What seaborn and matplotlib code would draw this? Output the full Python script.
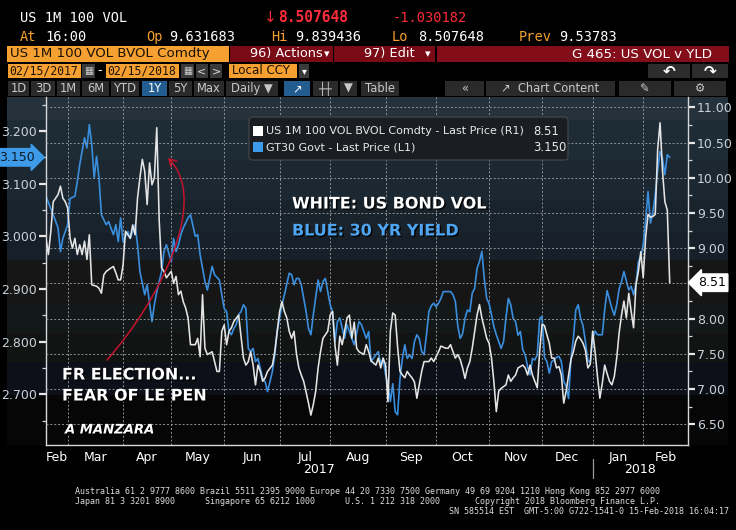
import matplotlib
matplotlib.use("Agg")
import matplotlib.pyplot as plt
import matplotlib.transforms as mtransforms
import matplotlib.patheffects as pe
from matplotlib.patches import Rectangle, FancyBboxPatch, FancyArrowPatch
from matplotlib.path import Path
import pandas as pd
import seaborn as sns

# ---------------- data ----------------
vol_day = [0, 1, 2, 3, 4, 5, 6, 7, 8, 9, 10, 11, 12, 13, 14, 15, 16, 17, 18, 19, 21, 22, 23, 24, 25, 27, 28, 29, 30, 31,
           32, 33, 34, 35, 36, 37, 38, 39, 40, 41, 42, 43, 44, 45, 46, 47, 48, 49, 50, 52, 53, 54, 55, 56, 57, 58, 59, 60, 62, 63,
           64, 65, 66, 67, 68, 69, 70, 71, 72, 73, 74, 75, 76, 77, 78, 80, 81, 82, 83, 84, 85, 86, 87, 88, 89, 90, 91, 92, 94, 95,
           96, 97, 98, 99, 100, 101, 102, 103, 104, 105, 106, 107, 108, 109, 110, 111, 112, 113, 114, 115, 117, 118, 119, 120, 121, 122, 123, 124, 125, 126,
           127, 128, 129, 130, 132, 133, 134, 135, 137, 138, 139, 140, 141, 142, 143, 144, 145, 146, 147, 148, 149, 150, 151, 152, 153, 154, 155, 156, 157, 159,
           160, 161, 163, 164, 166, 167, 168, 169, 170, 171, 172, 173, 174, 175, 176, 177, 178, 179, 180, 181, 182, 183, 184, 185, 186, 187, 188, 189, 191, 192,
           193, 194, 195, 196, 198, 199, 200, 201, 202, 203, 204, 205, 206, 207, 208, 209, 210, 211, 212, 213, 214, 215, 216, 217, 218, 219, 220, 221, 222, 223,
           224, 225, 226, 227, 228, 229, 230, 231, 232, 233, 234, 235, 236, 237, 238, 239, 240, 241, 242, 243, 244, 245, 246, 247, 248, 249, 250, 251, 252, 253,
           254, 255, 256, 257, 258, 259]
vol_val = [9.14, 8.91, 9.24, 9.66, 9.71, 9.76, 9.88, 9.71, 9.66, 9.57, 9.14, 9.00, 9.14, 8.91, 9.05, 8.91, 9.10, 8.84, 9.19, 8.48, 8.46, 8.43, 8.36, 8.62, 8.67, 8.72, 8.74, 8.65, 8.55, 8.55,
           8.76, 9.24, 9.19, 9.14, 9.33, 9.19, 9.71, 10.00, 10.26, 10.09, 9.62, 10.21, 9.90, 10.00, 10.71, 9.40, 8.72, 8.67, 8.58, 8.67, 8.50, 8.60, 8.34, 8.39, 8.24, 8.15, 8.01, 7.63, 7.63, 7.72,
           7.46, 8.34, 7.58, 7.49, 7.51, 7.53, 7.39, 7.25, 7.25, 7.82, 7.91, 7.63, 7.82, 7.87, 7.96, 8.05, 7.75, 7.44, 7.34, 7.39, 7.53, 7.34, 7.06, 7.34, 7.25, 7.11, 7.16, 7.25, 7.34, 7.53,
           7.82, 8.10, 8.24, 8.10, 8.01, 7.82, 7.72, 7.82, 7.50, 7.30, 7.20, 7.11, 6.96, 6.80, 6.63, 6.78, 6.97, 7.30, 7.53, 7.72, 7.82, 8.05, 8.10, 7.62, 7.34, 7.75, 7.63, 7.82, 8.01, 8.05,
           7.72, 7.95, 7.58, 7.53, 7.49, 7.63, 7.53, 7.40, 7.34, 7.44, 7.30, 7.44, 7.34, 6.82, 7.82, 8.08, 8.05, 7.60, 7.25, 7.20, 7.16, 7.25, 7.20, 7.16, 7.10, 6.87, 7.06, 7.25, 7.39, 7.39,
           7.44, 7.39, 7.53, 7.61, 7.58, 7.58, 7.63, 7.53, 7.44, 7.49, 7.42, 7.30, 7.15, 7.30, 7.39, 7.58, 7.82, 8.05, 8.20, 8.01, 7.87, 7.72, 7.65, 7.44, 7.10, 6.68, 6.97, 7.01, 7.06, 7.20,
           7.11, 7.16, 7.20, 7.30, 7.34, 7.30, 7.20, 7.34, 7.20, 7.11, 7.02, 7.53, 7.92, 7.90, 7.77, 7.65, 7.44, 7.44, 7.30, 7.32, 7.20, 6.80, 6.97, 7.20, 7.42, 7.53, 7.68, 7.75, 7.71, 7.65,
           7.55, 7.30, 7.35, 7.82, 7.53, 7.18, 6.87, 7.08, 7.34, 7.22, 7.11, 7.06, 7.18, 7.44, 7.80, 8.05, 8.25, 8.01, 8.36, 8.10, 7.87, 8.48, 8.67, 8.95, 8.58, 9.15, 9.48, 9.44, 9.45, 9.48,
           10.40, 10.78, 10.10, 9.66, 9.54, 8.51]

yld_day = [0, 3, 5, 6, 7, 9, 10, 12, 13, 14, 16, 17, 18, 19, 20, 21, 22, 23, 25, 26, 28, 29, 30, 31, 32, 34, 35, 37, 38, 39,
           41, 42, 44, 45, 46, 48, 49, 50, 52, 53, 54, 55, 56, 57, 59, 60, 62, 63, 64, 66, 67, 68, 69, 70, 72, 73, 74, 75, 76, 77,
           78, 79, 80, 81, 82, 83, 84, 85, 86, 87, 88, 89, 90, 91, 92, 94, 95, 96, 98, 99, 101, 102, 103, 104, 105, 106, 107, 108, 109, 110,
           111, 113, 114, 115, 116, 117, 118, 119, 120, 121, 122, 124, 125, 127, 128, 130, 131, 133, 134, 135, 137, 138, 139, 140, 141, 142, 143, 144, 145, 146,
           147, 148, 149, 150, 151, 152, 153, 154, 155, 156, 157, 158, 159, 160, 161, 162, 163, 164, 165, 166, 168, 169, 170, 171, 172, 173, 174, 175, 176, 177,
           178, 179, 180, 181, 182, 183, 184, 185, 186, 187, 188, 189, 190, 191, 192, 193, 194, 195, 196, 197, 198, 199, 200, 201, 202, 203, 204, 205, 206, 207,
           208, 209, 210, 211, 212, 213, 214, 215, 216, 217, 218, 219, 220, 221, 222, 223, 224, 225, 226, 227, 228, 229, 230, 231, 232, 233, 234, 235, 236, 237,
           238, 239, 240, 241, 242, 243, 244, 245, 246, 247, 248, 249, 250, 251, 252, 253, 254, 255, 256, 257, 258, 259]
yld_val = [3.076, 3.041, 3.016, 2.971, 2.996, 3.022, 3.072, 3.076, 3.104, 3.136, 3.187, 3.168, 3.212, 3.174, 3.111, 3.152, 3.111, 3.041, 3.022, 3.028, 3.003, 3.022, 2.990, 3.035, 2.990, 3.009, 2.996, 3.022, 2.984, 2.933,
           2.889, 2.908, 2.838, 2.870, 2.895, 2.933, 2.971, 2.984, 2.952, 2.996, 2.971, 2.984, 3.003, 3.016, 3.035, 3.041, 3.000, 3.003, 2.965, 2.914, 2.898, 2.920, 2.943, 2.927, 2.917, 2.889, 2.863, 2.857, 2.819, 2.813,
           2.825, 2.832, 2.851, 2.857, 2.870, 2.863, 2.787, 2.781, 2.787, 2.762, 2.768, 2.749, 2.730, 2.724, 2.705, 2.743, 2.775, 2.819, 2.870, 2.889, 2.930, 2.927, 2.908, 2.920, 2.920, 2.908, 2.882, 2.857, 2.825, 2.813,
           2.851, 2.917, 2.895, 2.914, 2.920, 2.895, 2.870, 2.857, 2.800, 2.838, 2.845, 2.806, 2.832, 2.806, 2.794, 2.838, 2.832, 2.806, 2.819, 2.762, 2.775, 2.781, 2.756, 2.768, 2.737, 2.720, 2.686, 2.720, 2.667, 2.661,
           2.730, 2.768, 2.794, 2.768, 2.775, 2.768, 2.800, 2.813, 2.806, 2.781, 2.775, 2.813, 2.857, 2.868, 2.873, 2.866, 2.873, 2.882, 2.895, 2.895, 2.895, 2.889, 2.876, 2.830, 2.806, 2.815, 2.844, 2.860, 2.857, 2.892,
           2.901, 2.939, 2.952, 2.971, 2.920, 2.882, 2.872, 2.851, 2.828, 2.813, 2.800, 2.787, 2.800, 2.845, 2.882, 2.870, 2.844, 2.838, 2.812, 2.819, 2.784, 2.775, 2.752, 2.737, 2.768, 2.765, 2.775, 2.844, 2.848, 2.770,
           2.762, 2.740, 2.762, 2.765, 2.770, 2.772, 2.762, 2.724, 2.715, 2.692, 2.768, 2.806, 2.860, 2.870, 2.844, 2.830, 2.800, 2.765, 2.760, 2.805, 2.820, 2.813, 2.813, 2.813, 2.860, 2.897, 2.880, 2.863, 2.850, 2.870,
           2.900, 2.914, 2.933, 2.915, 2.898, 2.905, 2.889, 2.910, 2.952, 2.962, 2.984, 3.030, 3.085, 3.025, 3.045, 3.080, 3.125, 3.161, 3.148, 3.117, 3.155, 3.150]

month_starts = [9, 32, 52, 74, 97, 118, 141, 162, 184, 206, 227, 248]
month_labels = ["Feb", "Mar", "Apr", "May", "Jun", "Jul", "Aug", "Sep", "Oct", "Nov", "Dec", "Jan", "Feb"]
year_labels = ["2017", "2018"]
left_ticks = [2.7, 2.8, 2.9, 3.0, 3.1, 3.2]
right_ticks = [6.5, 7.0, 7.5, 8.0, 8.5, 9.0, 9.5, 10.0, 10.5, 11.0]
last_vol = 8.51
last_yld = 3.150
vol_label = "US 1M 100 VOL BVOL Comdty - Last Price (R1)"
yld_label = "GT30 Govt - Last Price (L1)"

# ---------------- figure ----------------
sns.set_theme(style="dark")
plt.rcParams["font.family"] = ["DejaVu Sans"]
plt.rcParams["axes.unicode_minus"] = False

W, H = 736, 530
fig = plt.figure(figsize=(W / 100, H / 100), dpi=100, facecolor="black")


def fx(x):
    return x / W


def fy(y):
    return 1 - y / H


def rect(x0, y0, x1, y1, fc, ec=None, lw=0, z=1):
    fig.patches.append(Rectangle((fx(x0), fy(y1)), fx(x1) - fx(x0), fy(y0) - fy(y1),
                                 transform=fig.transFigure, fc=fc, ec=ec or fc, lw=lw, zorder=z))


def txt(x, y, s, **kw):
    kw.setdefault("va", "center")
    return fig.text(fx(x), fy(y), s, **kw)


MONO = ["DejaVu Sans Mono"]
ORANGE = "#f5a030"

# header rows
txt(20, 18, "US 1M 100 VOL", color="white", family=MONO, fontsize=9.8)
txt(264, 18, "\u2193", color="#ff2b3a", fontsize=11)
txt(278, 18, "8.507648", color="#ff2b3a", family=MONO, fontsize=10.5, fontweight="bold")
txt(393, 18, "-1.030182", color="#ff2b3a", family=MONO, fontsize=9.8)
for x, lab, xv, val in [(20, "At", 45, "16:00"), (146, "Op", 169, "9.631683"), (271, "Hi", 295, "9.839436"),
                        (392, "Lo", 418, "8.507648"), (519, "Prev", 559, "9.53783")]:
    txt(x, 37, lab, color=ORANGE, family=MONO, fontsize=9.8)
    txt(xv, 37, val, color="white", family=MONO, fontsize=9.8)

rect(7, 46, 229, 62, ORANGE)
txt(10, 54, "US 1M 100 VOL BVOL Comdty", color="#1b1206", fontsize=9.6)
rect(230, 46, 333, 62, "#7a0b16")
txt(250, 54, "96) Actions", color="white", fontsize=9.3)
rect(322, 51, 331, 57, "#7a0b16")
txt(327, 54, "\u25be", color="white", fontsize=8, ha="center")
rect(334, 46, 435, 62, "#7a0b16")
txt(364, 54, "97) Edit", color="white", fontsize=9.3)
txt(428, 54, "\u25be", color="white", fontsize=8, ha="center")
rect(437, 46, 729, 62, "#830d19")
txt(712, 54, "G 465: US VOL v YLD", color="white", fontsize=9.6, ha="right")

rect(8, 64, 81, 78, ORANGE)
txt(44, 71, "02/15/2017", color="#1b1206", family=MONO, fontsize=8.3, ha="center")
rect(82, 64, 95, 78, "#3a3a3a")
txt(88.5, 71, "\u25a6", color="#cccccc", fontsize=7, ha="center")
txt(100, 71, "-", color="white", fontsize=9, ha="center")
rect(106, 64, 179, 78, ORANGE)
txt(142, 71, "02/15/2018", color="#1b1206", family=MONO, fontsize=8.3, ha="center")
rect(181, 64, 194, 78, "#3a3a3a")
txt(187.5, 71, "\u25a6", color="#cccccc", fontsize=7, ha="center")
rect(196, 64, 208, 78, "#3a3a3a")
txt(202, 71, "<", color="#dddddd", fontsize=8, ha="center")
rect(210, 64, 222, 78, "#3a3a3a")
txt(216, 71, ">", color="#dddddd", fontsize=8, ha="center")
rect(229, 64, 297, 78, ORANGE)
txt(232, 71, "Local CCY", color="#1b1206", fontsize=8.6)
rect(299, 64, 309, 78, "#3a3a3a")
txt(304, 71, "\u25be", color="white", fontsize=7, ha="center")
rect(648, 64, 690, 78, "#2c2c2c")
txt(669, 71, "\u21b6", color="white", fontsize=11, ha="center", fontweight="bold")
rect(692, 64, 728, 78, "#2c2c2c")
txt(710, 71, "\u21b7", color="white", fontsize=11, ha="center", fontweight="bold")

buttons = [(8, 29, "1D", False), (31, 55, "3D", False), (57, 80, "1M", False), (82, 109, "6M", False),
           (111, 139, "YTD", False), (142, 167, "1Y", True), (169, 192, "5Y", False), (194, 224, "Max", False),
           (226, 278, "Daily \u25bc", False), (284, 310, "\u2197", True), (313, 338, "\u253c\u253c", False),
           (340, 357, "\u25bc", False), (361, 399, "Table", False), (445, 484, "\u00ab", False),
           (486, 615, "\u2197  Chart Content", False), (619, 671, "\u270e", False), (674, 726, "\u2699", False)]
for x0, x1, lab, hi in buttons:
    rect(x0, 81, x1, 96, "#235d8f" if hi else "#2a2a2a")
    txt((x0 + x1) / 2, 88.5, lab, color="#c8c8c8" if not hi else "white", fontsize=8.3, ha="center",
        family=["DejaVu Sans"])

# ---------------- background bands ----------------
bg = fig.add_axes([fx(7), fy(445), fx(728) - fx(7), fy(97) - fy(445)], zorder=-1)
bg.set_xlim(0, 1)
bg.set_ylim(445, 97)
bg.axis("off")
for a, b, c in [(97, 120, "#25323b"), (120, 160, "#1e2c36"), (160, 200, "#1b2731"), (200, 233, "#19232c"),
                (233, 260, "#172029"), (260, 305, "#161616"), (305, 333, "#131918"), (333, 362, "#121313"),
                (362, 395, "#0d0f19"), (395, 445, "#060606")]:
    bg.axhspan(a, b, color=c, lw=0)

# ---------------- main axes ----------------
ax = fig.add_axes([fx(46), fy(445), fx(688) - fx(46), fy(97) - fy(445)])
ax.patch.set_visible(False)
ax2 = ax.twinx()

df_yld = pd.DataFrame({"day": yld_day, "yield": yld_val})
df_vol = pd.DataFrame({"day": vol_day, "vol": vol_val})
sns.lineplot(data=df_yld, x="day", y="yield", ax=ax, color="#3a8ede", linewidth=1.2, legend=False)
sns.lineplot(data=df_vol, x="day", y="vol", ax=ax2, color="#e4e4e4", linewidth=1.15, legend=False)

xmax = 266.6
ax.set_xlim(0, xmax)
ax.set_ylim(2.6036, 3.2646)
ax2.set_ylim(6.206, 11.146)
for a in (ax, ax2):
    a.set_xlabel("")
    a.set_ylabel("")
    for s in a.spines.values():
        s.set_visible(False)
ax.spines["left"].set_visible(True)
ax.spines["bottom"].set_visible(True)
ax2.spines["right"].set_visible(True)
for s in (ax.spines["left"], ax.spines["bottom"], ax2.spines["right"]):
    s.set_color("#d5d8db")
    s.set_linewidth(1.0)

# grid
ax.grid(False)
ax2.grid(False)
ax2.yaxis.grid(True, which="major", linestyle=(0, (2, 2)), color="#8e9398", linewidth=0.7)
ax2.set_axisbelow(True)
ax.set_xticks(month_starts, minor=True)
ax.xaxis.grid(True, which="minor", linestyle=(0, (2, 2)), color="#8e9398", linewidth=0.7)

edges = [0] + month_starts + [xmax]
mids = [(edges[i] + edges[i + 1]) / 2 for i in range(len(month_labels))]
ax.set_xticks(mids)
ax.set_xticklabels(month_labels)
ax.tick_params(axis="x", which="major", length=0, pad=4, labelcolor="white", labelsize=9)
ax.tick_params(axis="x", which="minor", length=5, width=0.9, color="#d5d8db", direction="out")

# left axis ticks
ax.set_yticks(left_ticks)
ax.set_yticklabels([f"{v:.3f}" for v in left_ticks])
ax.set_yticks([v + 0.05 for v in [2.6] + left_ticks], minor=True)
ax.tick_params(axis="y", which="major", length=5, width=1.6, color="#e6e6e6", pad=1.5,
               labelcolor="#c9d2da", labelsize=9)
ax.tick_params(axis="y", which="minor", length=3, width=0.9, color="#cfd3d6")

# right axis ticks
ax2.set_yticks(right_ticks)
ax2.set_yticklabels(["" if v == 8.5 else f"{v:.2f}" for v in right_ticks])
ax2.set_yticks([v + 0.25 for v in [6.25] + right_ticks[:-1]], minor=True)
ax2.tick_params(axis="y", which="major", length=5, width=1.6, color="#e6e6e6", pad=1.5,
                labelcolor="#c9d2da", labelsize=9)
ax2.tick_params(axis="y", which="minor", length=3, width=0.9, color="#cfd3d6")

# year labels and separator
trans = mtransforms.blended_transform_factory(ax.transData, ax.transAxes)
ax.text((0 + month_starts[10]) / 2, -0.069, year_labels[0], transform=trans, ha="center", va="center",
        color="white", fontsize=9)
ax.text((month_starts[10] + xmax) / 2, -0.069, year_labels[1], transform=trans, ha="center", va="center",
        color="white", fontsize=9)
ax.axvline(month_starts[10], ymin=-0.095, ymax=-0.04, clip_on=False, color="#9a9a9a", lw=0.9)

# last value boxes
ax2.annotate(f"{last_vol:.2f}", xy=(1, last_vol), xycoords=("axes fraction", "data"), xytext=(7, 0),
             textcoords="offset points", ha="left", va="center", fontsize=9, color="black",
             bbox=dict(boxstyle="larrow,pad=0.18", fc="white", ec="white"), annotation_clip=False)
ax.annotate(f"{last_yld:.3f}", xy=(0, last_yld), xycoords=("axes fraction", "data"), xytext=(-8, 0),
            textcoords="offset points", ha="right", va="center", fontsize=9, color="#0b1c2d",
            bbox=dict(boxstyle="rarrow,pad=0.18", fc="#3d9be9", ec="#3d9be9"), annotation_clip=False)

# ---------------- legend ----------------
fig.patches.append(FancyBboxPatch((fx(249), fy(160)), fx(568) - fx(249), fy(117) - fy(160),
                                  boxstyle="round,pad=0,rounding_size=0.006", transform=fig.transFigure,
                                  fc="#1a1e22", ec="#3e4348", lw=1, zorder=5))
rect(253, 126, 263, 136, "#ffffff", z=6)
rect(253, 142, 263, 152, "#3d9be9", z=6)
txt(266, 131.5, vol_label, color="#e8e8e8", fontsize=8.0, zorder=6)
txt(266, 147.5, yld_label, color="#e8e8e8", fontsize=8.0, zorder=6)
txt(533, 131.5, f"{last_vol:.2f}", color="#e8e8e8", fontsize=8.4, zorder=6)
txt(533, 147.5, f"{last_yld:.3f}", color="#e8e8e8", fontsize=8.4, zorder=6)

# ---------------- annotations ----------------
shadow = [pe.withSimplePatchShadow(offset=(1, -1), shadow_rgbFace="black", alpha=0.9)]
txt(292, 204, "WHITE: US BOND VOL", color="white", fontsize=11.5, fontweight="bold", path_effects=shadow, zorder=6)
txt(292, 231, "BLUE: 30 YR YIELD", color="#4ea6f2", fontsize=11.5, fontweight="bold", path_effects=shadow, zorder=6)
txt(62, 375, "FR ELECTION...", color="white", fontsize=11.5, fontweight="bold", path_effects=shadow, zorder=6)
txt(62, 396, "FEAR OF LE PEN", color="white", fontsize=11.5, fontweight="bold", path_effects=shadow, zorder=6)
txt(65, 430, "A MANZARA", color="white", fontsize=9.5, fontweight="bold", fontstyle="italic",
    path_effects=shadow, zorder=6)

verts = [(fx(107), fy(360)), (fx(160), fy(300)), (fx(210), fy(200)), (fx(168), fy(158))]
curve = Path(verts, [Path.MOVETO, Path.CURVE4, Path.CURVE4, Path.CURVE4])
fig.patches.append(FancyArrowPatch(path=curve, arrowstyle="->,head_length=5,head_width=3",
                                   transform=fig.transFigure, color="#c4132d", lw=1.1, zorder=6))

# ---------------- footer ----------------
txt(75, 491, "Australia 61 2 9777 8600 Brazil 5511 2395 9000 Europe 44 20 7330 7500 Germany 49 69 9204 1210 Hong Kong 852 2977 6000",
    color="#dcdcdc", family=MONO, fontsize=6)
txt(75, 501, "Japan 81 3 3201 8900      Singapore 65 6212 1000      U.S. 1 212 318 2000       Copyright 2018 Bloomberg Finance L.P.",
    color="#dcdcdc", family=MONO, fontsize=6)
txt(729, 511, "SN 585514 EST  GMT-5:00 G722-1541-0 15-Feb-2018 16:04:17",
    color="#dcdcdc", family=MONO, fontsize=6, ha="right")

fig.savefig("out.png", dpi=100, facecolor="black")
